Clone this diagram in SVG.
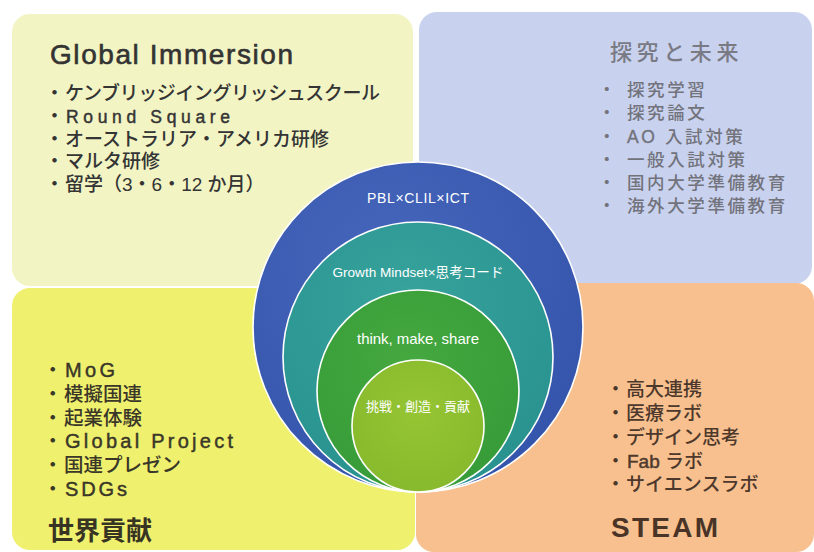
<svg xmlns="http://www.w3.org/2000/svg" width="814" height="552" viewBox="0 0 814 552">
<defs>
<style>
.jp{font-family:'Liberation Sans','Noto Sans CJK JP',sans-serif;}
.tl{fill:#343434;font-size:19px;font-weight:500;}
.tr{fill:#73737c;font-size:17.5px;letter-spacing:2.6px;font-weight:500;}
.bl{fill:#3a3628;font-size:19.5px;font-weight:500;}
.br{fill:#4d382c;font-size:19px;font-weight:500;}
.ct{fill:#ffffff;text-anchor:middle;}
.ring{stroke:#ffffff;stroke-width:1.6;}
.tl .lat{stroke:#343434;stroke-width:0.45;}
.bl .lat{stroke:#3a3628;stroke-width:0.45;}
.br .lat{stroke:#4d382c;stroke-width:0.45;}
.tr .lat{stroke:#73737c;stroke-width:0.4;}
.ttl{stroke:#333333;stroke-width:0.6;}
</style>
<radialGradient id="gBlue" cx="0.4" cy="0.3" r="0.8">
<stop offset="0" stop-color="#4566bb"/><stop offset="1" stop-color="#3353aa"/>
</radialGradient>
<radialGradient id="gTeal" cx="0.45" cy="0.3" r="0.8">
<stop offset="0" stop-color="#37a39c"/><stop offset="1" stop-color="#27908e"/>
</radialGradient>
<radialGradient id="gGreen" cx="0.45" cy="0.35" r="0.8">
<stop offset="0" stop-color="#45a83f"/><stop offset="1" stop-color="#349a37"/>
</radialGradient>
<radialGradient id="gLight" cx="0.5" cy="0.4" r="0.7">
<stop offset="0" stop-color="#96c533"/><stop offset="1" stop-color="#84b82b"/>
</radialGradient>
</defs>
<rect width="814" height="552" fill="#ffffff"/>

<g id="panel-global-immersion">
<rect x="12" y="14" width="401" height="272" rx="18" fill="#f3f4c4"/>
<text class="jp ttl" x="50" y="64" font-size="28" fill="#333333" textLength="243" lengthAdjust="spacing">Global Immersion</text>
<text class="jp tl" y="100"><tspan x="45">・</tspan><tspan x="65" textLength="315" lengthAdjust="spacing">ケンブリッジイングリッシュスクール</tspan></text>
<text class="jp tl" y="123"><tspan x="45">・</tspan><tspan class="lat" x="66" font-size="17.5" textLength="164" lengthAdjust="spacing">Round Square</tspan></text>
<text class="jp tl" y="146"><tspan x="45">・</tspan><tspan x="65">オーストラリア・アメリカ研修</tspan></text>
<text class="jp tl" y="168"><tspan x="45">・</tspan><tspan x="65">マルタ研修</tspan></text>
<text class="jp tl" y="191"><tspan x="45">・</tspan><tspan x="65">留学（3・6・12 か月）</tspan></text>
</g>

<g id="panel-tankyu">
<rect x="419" y="12" width="393" height="272" rx="18" fill="#c8d2ef"/>
<text class="jp" x="610" y="60" font-size="22" letter-spacing="4.6" fill="#7a7a84" font-weight="500">探究と未来</text>
<text class="jp tr" y="96"><tspan x="598">・</tspan><tspan x="627">探究学習</tspan></text>
<text class="jp tr" y="119"><tspan x="598">・</tspan><tspan x="627">探究論文</tspan></text>
<text class="jp tr" y="143"><tspan x="598">・</tspan><tspan x="627"><tspan class="lat">AO</tspan> 入試対策</tspan></text>
<text class="jp tr" y="166"><tspan x="598">・</tspan><tspan x="627">一般入試対策</tspan></text>
<text class="jp tr" y="189"><tspan x="598">・</tspan><tspan x="627">国内大学準備教育</tspan></text>
<text class="jp tr" y="212"><tspan x="598">・</tspan><tspan x="627">海外大学準備教育</tspan></text>
</g>

<g id="panel-sekai-koken">
<rect x="12" y="288" width="403" height="262" rx="18" fill="#eef06e"/>
<text class="jp bl" y="377"><tspan x="43">・</tspan><tspan class="lat" x="65" font-size="20" textLength="50" lengthAdjust="spacing">MoG</tspan></text>
<text class="jp bl" y="401"><tspan x="43">・</tspan><tspan x="64">模擬国連</tspan></text>
<text class="jp bl" y="425"><tspan x="43">・</tspan><tspan x="64">起業体験</tspan></text>
<text class="jp bl" y="448"><tspan x="43">・</tspan><tspan class="lat" x="65" font-size="20" textLength="168" lengthAdjust="spacing">Global Project</tspan></text>
<text class="jp bl" y="472"><tspan x="43">・</tspan><tspan x="64">国連プレゼン</tspan></text>
<text class="jp bl" y="496"><tspan x="43">・</tspan><tspan class="lat" x="65" font-size="20" textLength="62" lengthAdjust="spacing">SDGs</tspan></text>
<text class="jp" x="48" y="540" font-size="26" font-weight="700" fill="#383424">世界貢献</text>
</g>

<g id="panel-steam">
<rect x="416" y="283" width="398" height="269" rx="18" fill="#f8c08e"/>
<text class="jp br" y="396"><tspan x="606">・</tspan><tspan x="626">高大連携</tspan></text>
<text class="jp br" y="420"><tspan x="606">・</tspan><tspan x="626">医療ラボ</tspan></text>
<text class="jp br" y="444"><tspan x="606">・</tspan><tspan x="626">デザイン思考</tspan></text>
<text class="jp br" y="468"><tspan x="606">・</tspan><tspan x="627"><tspan class="lat">Fab</tspan> ラボ</tspan></text>
<text class="jp br" y="491"><tspan x="606">・</tspan><tspan x="626">サイエンスラボ</tspan></text>
<text class="jp" x="611" y="537" font-size="28" font-weight="700" fill="#4a3427" textLength="107" lengthAdjust="spacing">STEAM</text>
</g>

<g id="circle-pbl">
<circle class="ring" cx="418" cy="327" r="165" fill="url(#gBlue)"/>
<text class="jp ct" x="418" y="203" font-size="14" textLength="102" lengthAdjust="spacing">PBL×CLIL×ICT</text>
</g>
<g id="circle-growth">
<circle class="ring" cx="418" cy="357" r="135" fill="url(#gTeal)"/>
<text class="jp ct" x="418" y="277" font-size="13.6">Growth Mindset×思考コード</text>
</g>
<g id="circle-think">
<circle class="ring" cx="418" cy="391" r="101" fill="url(#gGreen)"/>
<text class="jp ct" x="418" y="344" font-size="15" textLength="122" lengthAdjust="spacing">think, make, share</text>
</g>
<g id="circle-core">
<circle class="ring" cx="418" cy="426" r="66" fill="url(#gLight)"/>
<text class="jp ct" x="418" y="411" font-size="13">挑戦・創造・貢献</text>
</g>

<g id="connectors"></g>
</svg>
